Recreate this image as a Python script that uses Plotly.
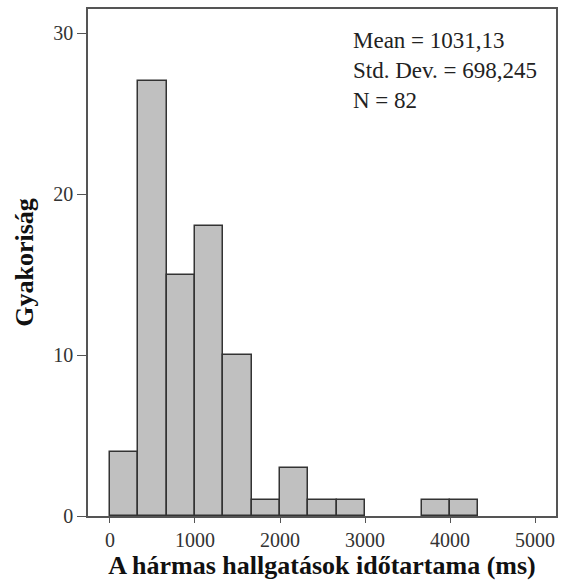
import plotly.graph_objects as go

bin_width = 1000 / 3
bin_starts = [i * bin_width for i in range(13)]
counts = [4, 27, 15, 18, 10, 1, 3, 1, 1, 0, 0, 1, 1]
x_ticks = [0, 1000, 2000, 3000, 4000, 5000]
y_ticks = [0, 10, 20, 30]
stats_text = ["Mean = 1031,13", "Std. Dev. = 698,245", "N = 82"]

bar_x = [s + bin_width / 2 for s, c in zip(bin_starts, counts) if c > 0]
bar_y = [c for c in counts if c > 0]

fig = go.Figure()
fig.add_trace(go.Bar(
    x=bar_x, y=bar_y, width=bin_width,
    marker=dict(color="#c0c0c0", line=dict(color="#333333", width=1.5)),
    hoverinfo="skip",
))

serif = "Liberation Serif"
fig.update_layout(
    width=562, height=584,
    margin=dict(l=88, r=4, t=9, b=68),
    paper_bgcolor="white", plot_bgcolor="white",
    showlegend=False,
    font=dict(family=serif, color="#222222"),
    bargap=0,
    xaxis=dict(
        range=[-258, 5246], tickvals=x_ticks, ticktext=[str(v) for v in x_ticks],
        ticks="outside", ticklen=5, tickcolor="#555555", tickwidth=1,
        showline=True, linecolor="#555555", linewidth=1.5, mirror=True,
        showgrid=False, zeroline=False,
        tickfont=dict(family=serif, size=20, color="#333333"),
        title=dict(text="<b>A hármas hallgatások időtartama (ms)</b>",
                   font=dict(family=serif, size=26, color="#111111"), standoff=2),
    ),
    yaxis=dict(
        range=[0, 31.5], tickvals=y_ticks,
        ticks="outside", ticklen=9, tickcolor="#555555", tickwidth=1,
        showline=True, linecolor="#555555", linewidth=1.5, mirror=True,
        showgrid=False, zeroline=False,
        tickfont=dict(family=serif, size=20, color="#333333"),
        title=dict(text="<b>Gyakoriság</b>",
                   font=dict(family=serif, size=26, color="#111111"), standoff=12),
    ),
)

fig.add_annotation(
    xref="paper", yref="paper", x=0.562, y=0.967, xanchor="left", yanchor="top",
    text="<br>".join(stats_text), showarrow=False, align="left",
    font=dict(family=serif, size=23, color="#222222"),
)

fig.write_html("out.html")
